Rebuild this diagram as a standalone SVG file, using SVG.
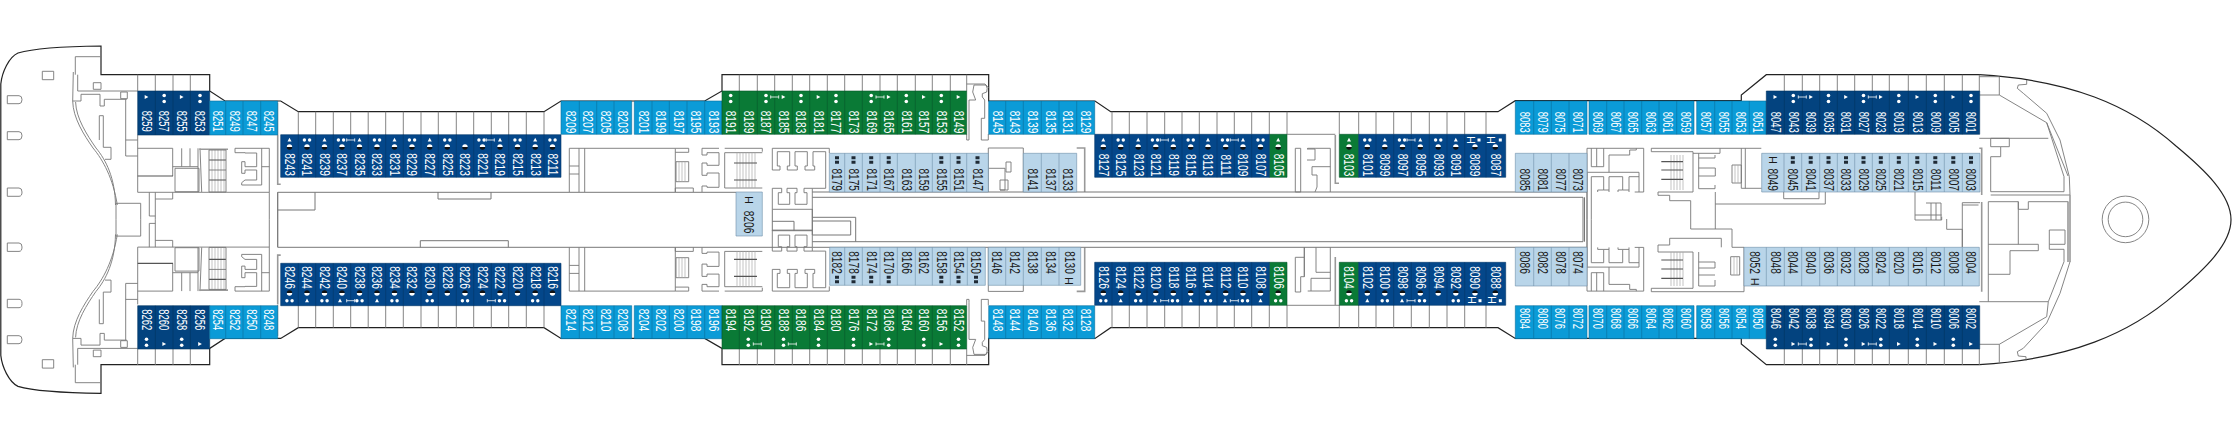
<svg xmlns="http://www.w3.org/2000/svg" width="2232" height="440" viewBox="0 0 2232 440">
<style>
text{font-family:"Liberation Sans",Arial,sans-serif;font-size:14.5px;writing-mode:vertical-rl;text-anchor:middle;transform-box:fill-box;transform-origin:center;transform:scaleY(.7)}
.x7 text{transform:scaleY(.65)}
.h text{transform:none;font-size:11px}
.tw{fill:#fff}.tk{fill:#1a1a1a}
.o{fill:none;stroke:#222;stroke-width:1.2}
.g{fill:none;stroke:#777;stroke-width:.9}
.g2{fill:none;stroke:#999;stroke-width:1.6}
.b{fill:none;stroke:#777;stroke-width:1}
.ha{fill:none;stroke:#aaa;stroke-width:.7}
.ra{fill:none;stroke:#555;stroke-width:1.2}
.dk{fill:#04478a;stroke:#033868;stroke-width:.6}
.de{fill:#03437f;stroke:#02345f;stroke-width:.6}
.md{fill:#0b9bd7;stroke:#0a6f9c;stroke-width:.6}
.gr{fill:#0a7a36;stroke:#07582a;stroke-width:.6}
.lt{fill:#b9d5e9;stroke:#6f8fa8;stroke-width:.6}
</style>
<defs>
<path id="tu" d="M0-2.2L2 1.6H-2Z" fill="#fff"/>
<path id="tr" d="M-1.8-2.1L1.9 0L-1.8 2.1Z" fill="#fff"/>
<g id="dh" fill="#fff"><circle cx="-2.6" r="1.7"/><circle cx="2.6" r="1.7"/></g>
<g id="dv" fill="#fff"><circle cy="-3" r="1.8"/><circle cy="3" r="1.8"/></g>
<g id="ht"><path d="M-2.7 0A2.7 2.7 0 0 1 2.7 0Z" fill="#fff"/><path d="M-2.7 0A2.7 2.7 0 0 0 2.7 0Z" fill="#111"/></g>
<g id="hb"><path d="M-2.7 0A2.7 2.7 0 0 0 2.7 0Z" fill="#fff"/><path d="M-2.7 0A2.7 2.7 0 0 1 2.7 0Z" fill="#111"/></g>
<path id="ib" d="M-4-1.6V1.6M-4 0H4M4-1.6V1.6" fill="none" stroke="#fff" stroke-width=".8"/>
<path id="ss" d="M-2-3.7h4v3h-4zM-2 .7h4v3h-4z" fill="#1f2a35"/>
<rect id="sq" x="-1.5" y="-1.5" width="3" height="3" fill="#fff"/>
<g id="aft">
<path class="g" d="M75.3 74.7V56.7H101M73.3 72L72.7 101C73 118 84 135 93 148C103 160 113 178 117.3 205M75.6 102C76 118 87 135 96 148C106 160 115 178 115.5 205M116 203.3V219.7M116 203.3H140.7V219.7M77.7 74.7V91H137.7M72.7 101H81V94.3H100V106H104.3V99.3H126.7M93.3 82.7H101V89.3H93.3ZM120.7 92H127.3V98.7H120.7ZM99.3 140V115.7H103.3V147.3H111V159.3H105M125.7 99.3V156H137.7M125.7 140H137.7M137.7 135V192.3H269.3V148.3M137.7 148.3H172.7V176M181.7 148.3V166.7M190 148.3V166.7M172.7 166.7H198M198 148.3V192M175 168.3H199V191.7H175ZM200 148.3L201.7 192M235 148.3V152.7H245V153H256.7V166.7H245V161.7H241.7V173.3H245V170H256.7V180H245L241.7 182.7V185H261.7M235 148.3H269.3M261.7 148.3V185M261.7 166.7H269.3M149.3 192.3V216H155.3M155.3 192.3V219.7M155.3 199H172.7V192.3M269.3 192.3V219.7M277.7 192.3V219.7"/>
<path class="ra" d="M137.7 176H173"/>
<path class="g2" d="M199.3 149.3H228M277.7 135V184.3H280.7"/>
<path class="ha" d="M212 150V192M215 150V192M218 150V192M221 150V192M224 150V192"/>
<path class="ra" d="M209 160H226M209 180H226"/>
<path class="g" d="M209 170H226M209 150H226V192H209Z"/>
<path class="g" d="M569.3 148.3H675.3V192M569.3 148.3V192M579 148.3V192M584.7 148.3V192M569.3 166H579M569.3 174H579M675.3 148.3H688.7V152.3H675.3M676 161.7H688.7V181.7H676ZM675.3 192V188H693.3V192M702 148.3V155H707V152.7H719V165.3H707V163H702V175.3H707V173H719V187.3H707V186H702V192M702 148.3H719M724.7 152.7H762.3M724.7 152.7V188H762.3M724.7 148.3H762.3V151.7"/>
<path class="ha" d="M679 161.7V181.7M682 161.7V181.7M685 161.7V181.7M737 152.7V188M740 152.7V188M743 152.7V188M746 152.7V188M749 152.7V188M752 152.7V188M755 152.7V188"/>
<path class="ra" d="M734 163H757M734 180H757"/>
<path class="g" d="M772.3 148.3V170H780V166H777.3V151.7H789.7V166H787.3V170H797.3V166H795V151.7H807.3V166H805V170H814.7V166H813V151.7H825.7V188.3H812.3V192M772.3 148.3H829.3V153M772.3 188.3H781.7V192.7H778.3V204.3H789.7V192.7H787V188.3H797V192.7H795V204.3H807V192.7H804V188.3H812.3M772.3 188.3V209.3H812.3M812.3 192V219.7"/>
<path class="g" d="M966.7 84H985L988.7 88M974 85H986Q988 88 986.7 92L982.3 93.7V97L984.7 100V118.3H981.3V140H988.3V134M974 85L972.7 92L975.7 100H969V137V140H966.7V134"/>
<path class="g2" d="M1084.7 192V148H1076.7"/>
<path class="g" d="M988.3 148H1023.3V192M988.3 148V192M988.3 168.3H1005V190H1000M1006 162H1011V172H1006ZM1000 180H1008V190H1000Z"/>
<path class="g" d="M1587 219.7V148.3H1643.7V192H1634.7M1591.3 148.3V166.7H1603.7V148.3M1596.7 148.3V166.7M1591.3 219.7V176.7H1603.7V190H1597.7V192M1609 192V190H1603.7M1609 190V176.7H1622.7V190H1618V192M1629 192V190H1622.7M1629 190V176.7H1639M1609 155H1629.7V150H1636.3V148.3M1609 155V172.3M1587 172.3H1639V192"/>
<path class="g2" d="M1587 172.3V219.7"/>
</g>
</defs>
<g id="hull">
<path class="o" d="M101 74.7V46C70 46.3 35 48 18 53C9 57 2 72 .8 84V355.4C2 367 9 382 18 386.4C35 391.4 70 393 101 393.4V364.7H209.7V348.4L225 338.4H280.7L298.3 327.7H544L561 338.4H704.7L722 348.4V364.7H988.7V338.4H1095L1110.7 327.7H1498L1515.3 338.4H1741.3V344L1766.3 364.7H1979.3C2070 359 2130 334 2176 293.4C2205 269 2231 244 2231 219.7C2231 195 2205 170 2176 146C2130 105 2070 80 1979.3 74.7H1766.3L1741.3 95V100.7H1515.3L1498 111.7H1110.7L1095 101H988.7V74.7H722V91L704.7 101H561L544 111.7H298.3L280.7 101H225L209.7 91V74.7Z"/>
</g>
<g id="interior">
<path class="g" d="M7.3 95.7H19Q22 95.7 22 99.7Q22 103.7 19 103.7H7.3ZM7.3 131.7H19Q22 131.7 22 135.7Q22 139.7 19 139.7H7.3ZM7.3 188H19Q22 188 22 192Q22 196.3 19 196.3H7.3ZM7.3 243H19Q22 243 22 247Q22 251.4 19 251.4H7.3ZM7.3 299.3H19Q22 299.3 22 303.5Q22 307.7 19 307.7H7.3ZM7.3 335.7H19Q22 335.7 22 339.7Q22 343.7 19 343.7H7.3ZM42.3 71.3H53.7V79.7H42.3ZM42.3 359.7H53.7V368.1H42.3Z"/>
<use href="#aft"/>
<use href="#aft" transform="matrix(1 0 0 -1 0 439.4)"/>
<path class="b" d="M277.7 192.3H736M277.7 247.3H812M277.7 192.3V247.3M277.7 210H315V192.3M438 192V199H491V192M420.3 247.3V240.7H508.3V247.3M772.3 209.3V230.7H812.3M772.3 221.3H794V230.7M812.3 192H1587M812.3 197.3H1583V241.7H812.3M812.3 247.3H1587M1584.5 197.3V241.7M812.3 217.3H855.7V241.7M812.3 221H850.7V235H812.3M812.3 209V235"/>
<path class="g" d="M1295.3 192V148.3H1300.7V192ZM1307.7 148.3H1330.3V192M1307.7 148.3L1307 149H1315V160H1307M1312 166.7H1330.3M1312 166.7V175H1317V187L1315 192M1287 134.3H1335.3M1295.3 292V257.3H1304.3V247.3M1295.3 292H1300.7V276.7H1304.3V257.3M1304.3 247.3V276.7M1330.3 247.3V291H1307.7M1311 278.3H1330.3M1316 272.3H1330.3M1316 247.3V272.3M1311 278.3V291M1287 305.3H1339"/>
<path class="g2" d="M1335.3 135V183.3H1339M1335.3 257V305"/>
<path class="g" d="M1651.3 148.3H1761.3M1651.3 148.3V151.7H1693V192H1658V195.3H1669.7V200.7H1690.7V229H1732V247.3M1693 153.3H1720V148.3M1698.7 153.3V188.7H1715V185M1698.7 158H1715V155M1698.7 168H1715.3V176H1698.7M1732 165H1741.3V183H1732ZM1741.3 148.3V188.3H1761.7M1745.3 148.3V188.3M1715.3 192V229M1715.3 204H1825.3V192M1783.7 192V198.7H1819V192M1744 247.3V291.7H1651.3V288.3H1693V252H1658V245H1669.7V238.3H1721.3V247.3M1732 247.3H1744M1698.7 252V286H1715V280M1698.7 262H1715V268H1698.7M1698.7 275H1715M1730.7 256.7H1739.7V275H1730.7Z"/>
<path class="ha" d="M1671 155V190M1674 155V190M1677 155V190M1680 155V190M1683 155V190M1671 252V286M1674 252V286M1677 252V286M1680 252V286M1683 252V286M1735 165V183M1738 165V183M1734 257V275M1737 257V275"/>
<path class="ra" d="M1661.3 161.7H1683M1661.3 170H1683M1661.3 179.3H1683M1661.3 260H1683M1661.3 269H1683M1661.3 278.3H1683"/>
<path class="g" d="M1915 192V220H1941.7V216.7M1915 215H1941.7M1926 203H1941V220M1931 203V220M1936 203V220M1946.7 219V229.3H1962.3V247M1962.3 202.7V247M1962.3 202.7H1980M1962.3 205H1978.5"/>
<path class="g" d="M1979.3 76.7H1999.3V95H1979.3M1999.3 95L2046.7 122.7L2064 176.7V191.7H1990.7V156.7H2000.7V146.7H1990.7V138.3H2009.3V146.7H2000.7M1979.3 138.3H2048.3M2026.7 80V84.3L2018.3 85L2017.3 88.3L2023.3 93.3L2046.7 113.3L2060 140L2069.3 176.7L2070 195H1990.7M2046.7 122.7L2068 176M1988.3 201.7H2018.3V209.3H2028.3V201.7H2068.3M1988.3 201.7V301.7M1988.3 244.3H2038.3V250.7H2010V274.3H1988.3M2018.3 201.7V244.3M2049.3 230H2065V244.3H2049.3ZM2049.3 244.3V249.3H2064V261.7L2048.3 301.7H1979.3M2048.3 301.7L2046.7 316.7L1999.3 344.3V364M1979.3 344.3H1999.3M2070 261.7L2060 293.3L2046.7 323L2023.3 348.3L2017.3 351.7L2018.3 356L2026 356.7V360.7"/>
<path class="g2" d="M1979.3 148.3H1981.7V195M1981.7 202V291.7M2070 195V262M2068 201.7V262"/>
<circle class="g" cx="2125.5" cy="219.4" r="23.3"/><circle class="g" cx="2125.5" cy="219.4" r="17.3"/>
</g>
<g id="balconies">
<path class="g" d="M137.7 74.7V91M155.3 74.7V91M173 74.7V91M190.3 74.7V91M137.7 349V365M155.3 349V365M173 349V365M190.3 349V365M277.7 103V135M298.3 111.7V135M315.7 111.7V135M333.3 111.7V135M350.7 111.7V135M368.2 111.7V135M385.7 111.7V135M403.3 111.7V135M421 111.7V135M438.3 111.7V135M456.3 111.7V135M473.7 111.7V135M491.3 111.7V135M508.7 111.7V135M526.3 111.7V135M544 111.7V135M277.7 336V305M298.3 327.7V305M315.7 327.7V305M333.3 327.7V305M350.7 327.7V305M368.2 327.7V305M385.7 327.7V305M403.3 327.7V305M421 327.7V305M438.3 327.7V305M456.3 327.7V305M473.7 327.7V305M491.3 327.7V305M508.7 327.7V305M526.3 327.7V305M544 327.7V305M739.3 74.7V91M757.3 74.7V91M774.7 74.7V91M792.3 74.7V91M809.7 74.7V91M827.3 74.7V91M844.7 74.7V91M862.3 74.7V91M880 74.7V91M897.3 74.7V91M915.3 74.7V91M932.3 74.7V91M950.3 74.7V91M966.7 74.7V91M739.3 349V365M757.3 349V365M774.7 349V365M792.3 349V365M809.7 349V365M827.3 349V365M844.7 349V365M862.3 349V365M880 349V365M897.3 349V365M915.3 349V365M932.3 349V365M950.3 349V365M966.7 349V365"/>
<path class="g" d="M1112 111.7V134M1129.3 111.7V134M1147 111.7V134M1164.7 111.7V134M1182 111.7V134M1199.3 111.7V134M1217 111.7V134M1234.3 111.7V134M1251.7 111.7V134M1269.3 111.7V134M1287 111.7V134M1339.3 111.7V134M1358.7 111.7V134M1376 111.7V134M1393.7 111.7V134M1411.3 111.7V134M1429.3 111.7V134M1447 111.7V134M1464.7 111.7V134M1486 111.7V134M1112 327.7V305M1129.3 327.7V305M1147 327.7V305M1164.7 327.7V305M1182 327.7V305M1199.3 327.7V305M1217 327.7V305M1234.3 327.7V305M1251.7 327.7V305M1269.3 327.7V305M1287 327.7V305M1339.3 327.7V305M1358.7 327.7V305M1376 327.7V305M1393.7 327.7V305M1411.3 327.7V305M1429.3 327.7V305M1447 327.7V305M1464.7 327.7V305M1486 327.7V305M1784.3 74.7V91M1802.3 74.7V91M1819.7 74.7V91M1837.3 74.7V91M1854.7 74.7V91M1872.3 74.7V91M1889.3 74.7V91M1908.3 74.7V91M1926.3 74.7V91M1944.3 74.7V91M1962.3 74.7V91M1979.3 74.7V91M1784.3 349V365M1802.3 349V365M1819.7 349V365M1837.3 349V365M1854.7 349V365M1872.3 349V365M1889.3 349V365M1908.3 349V365M1926.3 349V365M1944.3 349V365M1962.3 349V365M1979.3 349V365"/>
</g>
<g id="cabin-cells">
<path class="de" d="M137.7 91H209.7V135H137.7ZM155.3 91V135M173 91V135M190.3 91V135M137.7 305.7H209.7V349H137.7ZM155.3 305.7V349M173 305.7V349M190.3 305.7V349"/>
<path class="md" d="M209.7 101H277.7V135H209.7ZM225.7 101V135M243 101V135M260.7 101V135M209.7 305.7H277.7V338.7H209.7ZM225.7 305.7V338.7M243 305.7V338.7M260.7 305.7V338.7"/>
<path class="dk" d="M280.7 134.7H561V177.3H280.7ZM298.3 134.7V177.3M315.7 134.7V177.3M333.3 134.7V177.3M350.7 134.7V177.3M368.2 134.7V177.3M385.7 134.7V177.3M403.3 134.7V177.3M421 134.7V177.3M438.3 134.7V177.3M456.3 134.7V177.3M473.7 134.7V177.3M491.3 134.7V177.3M508.7 134.7V177.3M526.3 134.7V177.3M544 134.7V177.3M280.7 263.3H561V305.7H280.7ZM298.3 263.3V305.7M315.7 263.3V305.7M333.3 263.3V305.7M350.7 263.3V305.7M368.2 263.3V305.7M385.7 263.3V305.7M403.3 263.3V305.7M421 263.3V305.7M438.3 263.3V305.7M456.3 263.3V305.7M473.7 263.3V305.7M491.3 263.3V305.7M508.7 263.3V305.7M526.3 263.3V305.7M544 263.3V305.7"/>
<path class="md" d="M561 101H631.7V134.3H561ZM579.3 101V134.3M596.7 101V134.3M614 101V134.3M634.3 101H722V134.3H634.3ZM652 101V134.3M669.3 101V134.3M687 101V134.3M704.7 101V134.3M561 305.7H631.7V338.7H561ZM579.3 305.7V338.7M596.7 305.7V338.7M614 305.7V338.7M634.3 305.7H722V338.7H634.3ZM652 305.7V338.7M669.3 305.7V338.7M687 305.7V338.7M704.7 305.7V338.7M988.7 101H1094.7V134.3H988.7ZM1005.7 101V134.3M1023.3 101V134.3M1041.3 101V134.3M1059 101V134.3M1076.7 101V134.3M988.7 305.7H1094.7V338.7H988.7ZM1005.7 305.7V338.7M1023.3 305.7V338.7M1041.3 305.7V338.7M1059 305.7V338.7M1076.7 305.7V338.7"/>
<path class="gr" d="M722 91H966.7V134.3H722ZM739.3 91V134.3M757.3 91V134.3M774.7 91V134.3M792.3 91V134.3M809.7 91V134.3M827.3 91V134.3M844.7 91V134.3M862.3 91V134.3M880 91V134.3M897.3 91V134.3M915.3 91V134.3M932.3 91V134.3M950.3 91V134.3M722 305.7H966.7V349H722ZM739.3 305.7V349M757.3 305.7V349M774.7 305.7V349M792.3 305.7V349M809.7 305.7V349M827.3 305.7V349M844.7 305.7V349M862.3 305.7V349M880 305.7V349M897.3 305.7V349M915.3 305.7V349M932.3 305.7V349M950.3 305.7V349M1269.3 134.3H1287V177.3H1269.3ZM1339.3 134.3H1358.7V177.3H1339.3ZM1269.3 262.3H1287V305.3H1269.3ZM1339.3 262.3H1358.7V305.3H1339.3Z"/>
<path class="lt" d="M829.3 153.3H988.3V192H829.3ZM844.7 153.3V192M862.3 153.3V192M880 153.3V192M897.3 153.3V192M915.3 153.3V192M932.3 153.3V192M950.3 153.3V192M966.7 153.3V192M1023.3 153.3H1076.7V192H1023.3ZM1041.3 153.3V192M1059 153.3V192M829.7 247.3H985.3V285.3H829.7ZM844.7 247.3V285.3M862.3 247.3V285.3M880 247.3V285.3M897.3 247.3V285.3M915.3 247.3V285.3M932.3 247.3V285.3M950.3 247.3V285.3M967.3 247.3V285.3M988.3 247.3H1080.7V285.3H988.3ZM1005.7 247.3V285.3M1023.3 247.3V285.3M1041.3 247.3V285.3M1059 247.3V285.3M736 192H762.3V236H736ZM1515.3 153.3H1587V192H1515.3ZM1533.7 153.3V192M1551.3 153.3V192M1569 153.3V192M1515.3 247.3H1587V286H1515.3ZM1533.7 247.3V286M1551.3 247.3V286M1569 247.3V286M1761.7 153.3H1980V192H1761.7ZM1784 153.3V192M1801.7 153.3V192M1819.7 153.3V192M1837.3 153.3V192M1854.7 153.3V192M1872.3 153.3V192M1889.3 153.3V192M1908.3 153.3V192M1926.3 153.3V192M1944.3 153.3V192M1962.3 153.3V192M1744 247.3H1979.3V286H1744ZM1766.3 247.3V286M1784.3 247.3V286M1801.7 247.3V286M1819.7 247.3V286M1837.3 247.3V286M1854.7 247.3V286M1872.3 247.3V286M1889.3 247.3V286M1908.3 247.3V286M1926.3 247.3V286M1944.3 247.3V286M1962.3 247.3V286"/>
<path class="dk" d="M1094.7 134.3H1269.3V177.3H1094.7ZM1112 134.3V177.3M1129.3 134.3V177.3M1147 134.3V177.3M1164.7 134.3V177.3M1182 134.3V177.3M1199.3 134.3V177.3M1217 134.3V177.3M1234.3 134.3V177.3M1251.7 134.3V177.3M1094.7 262.3H1269.3V305.3H1094.7ZM1112 262.3V305.3M1129.3 262.3V305.3M1147 262.3V305.3M1164.7 262.3V305.3M1182 262.3V305.3M1199.3 262.3V305.3M1217 262.3V305.3M1234.3 262.3V305.3M1251.7 262.3V305.3M1358.7 134.3H1505.7V177.3H1358.7ZM1376 134.3V177.3M1393.7 134.3V177.3M1411.3 134.3V177.3M1429.3 134.3V177.3M1447 134.3V177.3M1464.7 134.3V177.3M1486 134.3V177.3M1358.7 262.3H1505.7V305.3H1358.7ZM1376 262.3V305.3M1393.7 262.3V305.3M1411.3 262.3V305.3M1429.3 262.3V305.3M1447 262.3V305.3M1464.7 262.3V305.3M1486 262.3V305.3"/>
<path class="md" d="M1515.3 101H1587V134.3H1515.3ZM1533.7 101V134.3M1551.3 101V134.3M1569 101V134.3M1589 101H1694V134.3H1589ZM1606.7 101V134.3M1624 101V134.3M1641.7 101V134.3M1659 101V134.3M1676.7 101V134.3M1696.7 101H1766.3V134.3H1696.7ZM1714.7 101V134.3M1732 101V134.3M1749.3 101V134.3M1515.3 305.7H1587V338.7H1515.3ZM1533.7 305.7V338.7M1551.3 305.7V338.7M1569 305.7V338.7M1589 305.7H1694V338.7H1589ZM1606.7 305.7V338.7M1624 305.7V338.7M1641.7 305.7V338.7M1659 305.7V338.7M1676.7 305.7V338.7M1696.7 305.7H1766.3V338.7H1696.7ZM1714.7 305.7V338.7M1732 305.7V338.7M1749.3 305.7V338.7"/>
<path class="de" d="M1766.3 91H1979.7V134.3H1766.3ZM1784.3 91V134.3M1802.3 91V134.3M1819.7 91V134.3M1837.3 91V134.3M1854.7 91V134.3M1872.3 91V134.3M1889.3 91V134.3M1908.3 91V134.3M1926.3 91V134.3M1944.3 91V134.3M1962.3 91V134.3M1766.3 305.7H1979.7V349H1766.3ZM1784.3 305.7V349M1802.3 305.7V349M1819.7 305.7V349M1837.3 305.7V349M1854.7 305.7V349M1872.3 305.7V349M1889.3 305.7V349M1908.3 305.7V349M1926.3 305.7V349M1944.3 305.7V349M1962.3 305.7V349"/>
</g>
<g id="labels-top">
<g class="tw x7" transform="translate(0 121.3)"><text x="146.5">8259</text><text x="164.2">8257</text><text x="181.7">8255</text><text x="200">8253</text><text x="217.7">8251</text><text x="234.3">8249</text><text x="251.8">8247</text><text x="269.2">8245</text></g>
<g class="tw" transform="translate(0 164.5)"><text x="289.5">8243</text><text x="307">8241</text><text x="324.5">8239</text><text x="342">8237</text><text x="359.5">8235</text><text x="377">8233</text><text x="394.5">8231</text><text x="412">8229</text><text x="429.7">8227</text><text x="447.3">8225</text><text x="465">8223</text><text x="482.5">8221</text><text x="500">8219</text><text x="517.5">8215</text><text x="535.2">8213</text><text x="552.5">8211</text></g>
<g class="tw" transform="translate(0 122)"><text x="570.2">8209</text><text x="588">8207</text><text x="605.3">8205</text><text x="622.8">8203</text><text x="643.2">8201</text><text x="660.7">8199</text><text x="678.2">8197</text><text x="695.8">8195</text><text x="713.3">8193</text><text x="730.7">8191</text><text x="748.3">8189</text><text x="766">8187</text><text x="783.5">8185</text><text x="801">8183</text><text x="818.5">8181</text><text x="836">8177</text><text x="853.5">8173</text><text x="871.2">8169</text><text x="888.7">8165</text><text x="906.3">8161</text><text x="923.8">8157</text><text x="941.3">8153</text><text x="958.5">8149</text><text x="997.2">8145</text><text x="1014.5">8143</text><text x="1032.3">8139</text><text x="1050.2">8135</text><text x="1067.8">8131</text><text x="1085.7">8129</text></g>
<g class="tk" transform="translate(0 179.7)"><text x="837">8179</text><text x="853.5">8175</text><text x="871.2">8171</text><text x="888.7">8167</text><text x="906.3">8163</text><text x="923.8">8159</text><text x="941.3">8155</text><text x="958.5">8151</text><text x="977.5">8147</text><text x="1032.3">8141</text><text x="1050.2">8137</text><text x="1067.8">8133</text><text x="1524.5">8085</text><text x="1542.5">8081</text><text x="1560.2">8077</text><text x="1578">8073</text><text x="1772.8">8049</text><text x="1792.8">8045</text><text x="1810.7">8041</text><text x="1828.5">8037</text><text x="1846">8033</text><text x="1863.5">8029</text><text x="1880.8">8025</text><text x="1898.8">8021</text><text x="1917.3">8015</text><text x="1935.3">8011</text><text x="1953.3">8007</text><text x="1971">8003</text></g>
<g class="tw" transform="translate(0 165)"><text x="1103.3">8127</text><text x="1120.7">8125</text><text x="1138.2">8123</text><text x="1155.8">8121</text><text x="1173.3">8119</text><text x="1190.7">8115</text><text x="1208">8113</text><text x="1225.7">8111</text><text x="1243">8109</text><text x="1260.5">8107</text><text x="1278.2">8105</text><text x="1349">8103</text><text x="1367.3">8101</text><text x="1384.8">8099</text><text x="1402.5">8097</text><text x="1420.3">8095</text><text x="1438.2">8093</text><text x="1455.8">8091</text><text x="1475">8089</text><text x="1495.8">8087</text></g>
<g class="tw x7" transform="translate(0 122.3)"><text x="1524.5">8083</text><text x="1542.5">8079</text><text x="1560.2">8075</text><text x="1578">8071</text><text x="1597.8">8069</text><text x="1615.3">8067</text><text x="1632.8">8065</text><text x="1650.3">8063</text><text x="1667.8">8061</text><text x="1685.3">8059</text><text x="1705.7">8057</text><text x="1723.3">8055</text><text x="1740.7">8053</text><text x="1757.8">8051</text><text x="1775.3">8047</text><text x="1793.3">8043</text><text x="1811">8039</text><text x="1828.5">8035</text><text x="1846">8031</text><text x="1863.5">8027</text><text x="1880.8">8023</text><text x="1898.8">8019</text><text x="1917.3">8013</text><text x="1935.3">8009</text><text x="1953.3">8005</text><text x="1971">8001</text></g>
<g class="tk"><text x="749" y="222">8206</text></g>
</g>
<g id="labels-bottom">
<g class="tw x7" transform="translate(0 319.7)"><text x="146.5">8262</text><text x="164.2">8260</text><text x="181.7">8258</text><text x="200">8256</text><text x="217.7">8254</text><text x="234.3">8252</text><text x="251.8">8250</text><text x="269.2">8248</text></g>
<g class="tw" transform="translate(0 277.5)"><text x="289.5">8246</text><text x="307">8244</text><text x="324.5">8242</text><text x="342">8240</text><text x="359.5">8238</text><text x="377">8236</text><text x="394.5">8234</text><text x="412">8232</text><text x="429.7">8230</text><text x="447.3">8228</text><text x="465">8226</text><text x="482.5">8224</text><text x="500">8222</text><text x="517.5">8220</text><text x="535.2">8218</text><text x="552.5">8216</text><text x="1103.3">8126</text><text x="1120.7">8124</text><text x="1138.2">8122</text><text x="1155.8">8120</text><text x="1173.3">8118</text><text x="1190.7">8116</text><text x="1208">8114</text><text x="1225.7">8112</text><text x="1243">8110</text><text x="1260.5">8108</text><text x="1278.2">8106</text><text x="1349">8104</text><text x="1367.3">8102</text><text x="1384.8">8100</text><text x="1402.5">8098</text><text x="1420.3">8096</text><text x="1438.2">8094</text><text x="1455.8">8092</text><text x="1475">8090</text><text x="1495.8">8088</text></g>
<g class="tw" transform="translate(0 320)"><text x="570.2">8214</text><text x="588">8212</text><text x="605.3">8210</text><text x="622.8">8208</text><text x="643.2">8204</text><text x="660.7">8202</text><text x="678.2">8200</text><text x="695.8">8198</text><text x="713.3">8196</text><text x="730.7">8194</text><text x="748.3">8192</text><text x="766">8190</text><text x="783.5">8188</text><text x="801">8186</text><text x="818.5">8184</text><text x="836">8180</text><text x="853.5">8176</text><text x="871.2">8172</text><text x="888.7">8168</text><text x="906.3">8164</text><text x="923.8">8160</text><text x="941.3">8156</text><text x="958.5">8152</text><text x="997.2">8148</text><text x="1014.5">8144</text><text x="1032.3">8140</text><text x="1050.2">8136</text><text x="1067.8">8132</text><text x="1085.7">8128</text></g>
<g class="tk" transform="translate(0 262.5)"><text x="837">8182</text><text x="853.5">8178</text><text x="871.2">8174</text><text x="888.7">8170</text><text x="906.3">8166</text><text x="923.8">8162</text><text x="941.3">8158</text><text x="958.5">8154</text><text x="976">8150</text><text x="997">8146</text><text x="1014.5">8142</text><text x="1032.3">8138</text><text x="1050.2">8134</text><text x="1069.8">8130</text><text x="1524.5">8086</text><text x="1542.5">8082</text><text x="1560.2">8078</text><text x="1578">8074</text><text x="1755">8052</text><text x="1775.3">8048</text><text x="1793">8044</text><text x="1811">8040</text><text x="1828.5">8036</text><text x="1846">8032</text><text x="1863.5">8028</text><text x="1880.8">8024</text><text x="1898.8">8020</text><text x="1917.3">8016</text><text x="1935.3">8012</text><text x="1953.3">8008</text><text x="1971">8004</text></g>
<g class="tw x7" transform="translate(0 318.5)"><text x="1524.5">8084</text><text x="1542.5">8080</text><text x="1560.2">8076</text><text x="1578">8072</text><text x="1597.8">8070</text><text x="1615.3">8068</text><text x="1632.8">8066</text><text x="1650.3">8064</text><text x="1667.8">8062</text><text x="1685.3">8060</text><text x="1705.7">8058</text><text x="1723.3">8056</text><text x="1740.7">8054</text><text x="1757.8">8050</text><text x="1775.3">8046</text><text x="1793.3">8042</text><text x="1811">8038</text><text x="1828.5">8034</text><text x="1846">8030</text><text x="1863.5">8026</text><text x="1880.8">8022</text><text x="1898.8">8018</text><text x="1917.3">8014</text><text x="1935.3">8010</text><text x="1953.3">8006</text><text x="1971">8002</text></g>
</g>
<g id="h-marks" class="h">
<g class="tw"><text x="1471" y="140">H</text><text x="1491.3" y="140">H</text><text x="1472" y="300">H</text><text x="1492" y="300">H</text></g>
<g class="tk"><text x="749" y="200">H</text><text x="1773" y="160">H</text><text x="1069" y="281">H</text><text x="1755" y="281.7">H</text></g>
</g>
<g id="icons">
<g transform="translate(0 97)"><use href="#tr" x="146.5"/><use href="#tr" x="181.7"/><use href="#tr" x="783.5"/><use href="#tr" x="818.5"/><use href="#tr" x="888.7"/><use href="#tr" x="923.8"/><use href="#tr" x="958.5"/><use href="#tr" x="1775.3"/><use href="#tr" x="1811"/><use href="#tr" x="1846"/><use href="#tr" x="1880.8"/><use href="#tr" x="1917.3"/><use href="#tr" x="1953.3"/><use href="#ib" x="774.7"/><use href="#ib" x="880"/><use href="#ib" x="1802.3"/><use href="#ib" x="1872.3"/></g>
<g transform="translate(0 98.5)"><use href="#dv" x="164.2"/><use href="#dv" x="200"/><use href="#dv" x="730.7"/><use href="#dv" x="766"/><use href="#dv" x="801"/><use href="#dv" x="836"/><use href="#dv" x="871.2"/><use href="#dv" x="906.3"/><use href="#dv" x="941.3"/><use href="#dv" x="1793.3"/><use href="#dv" x="1828.5"/><use href="#dv" x="1863.5"/><use href="#dv" x="1898.8"/><use href="#dv" x="1935.3"/><use href="#dv" x="1971"/></g>
<g transform="translate(0 342.3)"><use href="#dv" x="146.5"/><use href="#dv" x="181.7"/><use href="#dv" x="748.3"/><use href="#dv" x="783.5"/><use href="#dv" x="818.5"/><use href="#dv" x="853.5"/><use href="#dv" x="888.7"/><use href="#dv" x="923.8"/><use href="#dv" x="958.5"/><use href="#dv" x="1775.3"/><use href="#dv" x="1811"/><use href="#dv" x="1846"/><use href="#dv" x="1880.8"/><use href="#dv" x="1917.3"/><use href="#dv" x="1953.3"/></g>
<g transform="translate(0 344)"><use href="#tr" x="164.2"/><use href="#tr" x="200"/><use href="#tr" x="871.2"/><use href="#tr" x="941.3"/><use href="#tr" x="1793.3"/><use href="#tr" x="1828.5"/><use href="#tr" x="1863.5"/><use href="#tr" x="1898.8"/><use href="#tr" x="1935.3"/><use href="#tr" x="1971"/><use href="#ib" x="757.3"/><use href="#ib" x="792.3"/><use href="#ib" x="880"/><use href="#ib" x="1802.3"/><use href="#ib" x="1872.3"/></g>
<g transform="translate(0 140)"><use href="#tu" x="289.5"/><use href="#dh" x="307"/><use href="#tu" x="324.5"/><use href="#dh" x="341"/><use href="#ib" x="350.7"/><use href="#tu" x="359.5"/><use href="#dh" x="377"/><use href="#tu" x="394.5"/><use href="#dh" x="412"/><use href="#tu" x="429.7"/><use href="#dh" x="447.3"/><use href="#dh" x="481.5"/><use href="#ib" x="490.3"/><use href="#tu" x="500"/><use href="#dh" x="517.5"/><use href="#tu" x="535.2"/><use href="#dh" x="552.5"/><use href="#tu" x="1103.3"/><use href="#dh" x="1120.7"/><use href="#tu" x="1138.2"/><use href="#dh" x="1155"/><use href="#ib" x="1164.3"/><use href="#tu" x="1173.3"/><use href="#dh" x="1190.7"/><use href="#tu" x="1208"/><use href="#dh" x="1225"/><use href="#ib" x="1234.3"/><use href="#tu" x="1243"/><use href="#dh" x="1260.5"/><use href="#tu" x="1278.2"/><use href="#tu" x="1349"/><use href="#dh" x="1367.3"/><use href="#tu" x="1384.8"/><use href="#dh" x="1402"/><use href="#ib" x="1411"/><use href="#tu" x="1420.3"/><use href="#dh" x="1438.2"/><use href="#tu" x="1455.8"/><use href="#sq" x="1479"/><use href="#sq" x="1500.3"/></g>
<g transform="translate(0 300.7)"><use href="#dh" x="289.5"/><use href="#tu" x="307"/><use href="#dh" x="324.5"/><use href="#tu" x="340"/><use href="#ib" x="350.7"/><use href="#dh" x="359.5"/><use href="#tu" x="377"/><use href="#dh" x="394.5"/><use href="#dh" x="429.7"/><use href="#dh" x="465"/><use href="#ib" x="491.3"/><use href="#dh" x="502"/><use href="#dh" x="535.2"/><use href="#dh" x="1103.3"/><use href="#tu" x="1120.7"/><use href="#dh" x="1138.2"/><use href="#tu" x="1155"/><use href="#ib" x="1164.7"/><use href="#dh" x="1175"/><use href="#tu" x="1190.7"/><use href="#dh" x="1208"/><use href="#tu" x="1225"/><use href="#ib" x="1234.3"/><use href="#dh" x="1245"/><use href="#tu" x="1260.5"/><use href="#dh" x="1278.2"/><use href="#dh" x="1349"/><use href="#tu" x="1367.3"/><use href="#dh" x="1384.8"/><use href="#tu" x="1402"/><use href="#ib" x="1411"/><use href="#dh" x="1422"/><use href="#dh" x="1455.8"/><use href="#sq" x="1480"/><use href="#sq" x="1500.3"/></g>
<g transform="translate(0 147)"><use href="#ht" x="289.5"/><use href="#ht" x="307"/><use href="#ht" x="324.5"/><use href="#ht" x="342"/><use href="#ht" x="359.5"/><use href="#ht" x="377"/><use href="#ht" x="394.5"/><use href="#ht" x="412"/><use href="#ht" x="429.7"/><use href="#ht" x="447.3"/><use href="#ht" x="465"/><use href="#ht" x="482.5"/><use href="#ht" x="500"/><use href="#ht" x="517.5"/><use href="#ht" x="535.2"/><use href="#ht" x="552.5"/><use href="#ht" x="1103.3"/><use href="#ht" x="1120.7"/><use href="#ht" x="1138.2"/><use href="#ht" x="1155.8"/><use href="#ht" x="1173.3"/><use href="#ht" x="1190.7"/><use href="#ht" x="1208"/><use href="#ht" x="1225.7"/><use href="#ht" x="1243"/><use href="#ht" x="1260.5"/><use href="#ht" x="1278.2"/><use href="#ht" x="1349"/><use href="#ht" x="1367.3"/><use href="#ht" x="1384.8"/><use href="#ht" x="1402.5"/><use href="#ht" x="1420.3"/><use href="#ht" x="1438.2"/><use href="#ht" x="1455.8"/><use href="#ht" x="1475"/><use href="#ht" x="1495.3"/></g>
<g transform="translate(0 293)"><use href="#hb" x="289.5"/><use href="#hb" x="307"/><use href="#hb" x="324.5"/><use href="#hb" x="342"/><use href="#hb" x="359.5"/><use href="#hb" x="377"/><use href="#hb" x="394.5"/><use href="#hb" x="412"/><use href="#hb" x="429.7"/><use href="#hb" x="447.3"/><use href="#hb" x="465"/><use href="#hb" x="482.5"/><use href="#hb" x="500"/><use href="#hb" x="517.5"/><use href="#hb" x="535.2"/><use href="#hb" x="552.5"/><use href="#hb" x="1103.3"/><use href="#hb" x="1120.7"/><use href="#hb" x="1138.2"/><use href="#hb" x="1155.8"/><use href="#hb" x="1173.3"/><use href="#hb" x="1190.7"/><use href="#hb" x="1208"/><use href="#hb" x="1225.7"/><use href="#hb" x="1243"/><use href="#hb" x="1260.5"/><use href="#hb" x="1278.2"/><use href="#hb" x="1349"/><use href="#hb" x="1367.3"/><use href="#hb" x="1384.8"/><use href="#hb" x="1402.5"/><use href="#hb" x="1420.3"/><use href="#hb" x="1438.2"/><use href="#hb" x="1455.8"/><use href="#hb" x="1475"/><use href="#hb" x="1495.3"/></g>
<g transform="translate(0 160)"><use href="#ss" x="837"/><use href="#ss" x="853.5"/><use href="#ss" x="871.2"/><use href="#ss" x="888.7"/><use href="#ss" x="941.3"/><use href="#ss" x="958.5"/><use href="#ss" x="977.5"/><use href="#ss" x="1792.8"/><use href="#ss" x="1810.7"/><use href="#ss" x="1828.5"/><use href="#ss" x="1846"/><use href="#ss" x="1863.5"/><use href="#ss" x="1880.8"/><use href="#ss" x="1898.8"/><use href="#ss" x="1917.3"/><use href="#ss" x="1935.3"/><use href="#ss" x="1953.3"/><use href="#ss" x="1971"/></g>
<g transform="translate(0 279.5)"><use href="#ss" x="837"/><use href="#ss" x="853.5"/><use href="#ss" x="871.2"/><use href="#ss" x="888.7"/><use href="#ss" x="941.3"/><use href="#ss" x="958.5"/><use href="#ss" x="976"/></g>
</g>
</svg>
